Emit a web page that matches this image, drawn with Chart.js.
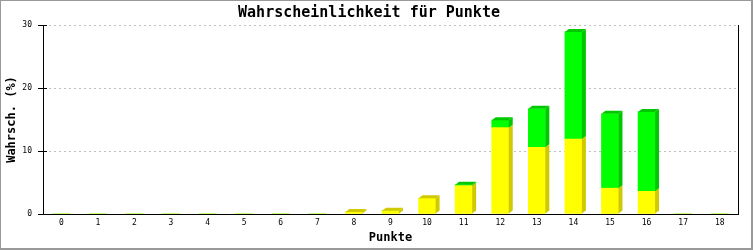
<!DOCTYPE html>
<html>
<head>
<meta charset="utf-8">
<script src="https://cdn.jsdelivr.net/npm/chart.js@4/dist/chart.umd.min.js"></script>
<style>
  html, body { margin: 0; padding: 0; background: #fff; }
  #wrap { width: 753px; height: 250px; }
</style>
</head>
<body>
<div id="wrap"><canvas id="chart"></canvas></div>
<script>
// Daten (Prozent)
const punkte = ['0','1','2','3','4','5','6','7','8','9','10','11','12','13','14','15','16','17','18'];
const wertGelb  = [0, 0, 0, 0, 0, 0, 0, 0, 0.3, 0.5, 2.5, 4.5, 13.7, 10.6, 11.9, 4.1, 3.6, 0, 0];
const wertGruen = [0, 0, 0, 0, 0, 0, 0, 0, 0, 0, 0, 0.15, 1.2, 6.1, 17.0, 11.8, 12.6, 0, 0];
const yTicks = [0, 10, 20, 30];

const FONT = "'DejaVu Sans Mono', 'Liberation Mono', monospace";
const frontColors = ['#ffff00', '#00ff00'];
const sideColors = ['#d0c800', '#00c800'];
const DX = 4, DY = 3;

// Rahmen, rechte Achse, Ticks nach innen
const framePlugin = {
    id: 'frame',
    beforeDraw(chart) {
        const ctx = chart.ctx;
        ctx.save();
        ctx.fillStyle = '#999999';
        ctx.fillRect(0, 0, chart.width, chart.height);
        ctx.fillStyle = '#ffffff';
        ctx.fillRect(1, 1, chart.width - 3, chart.height - 3);
        ctx.restore();
    },
    afterDraw(chart) {
        const a = chart.chartArea;
        const ctx = chart.ctx;
        const ys = chart.scales.y;
        ctx.save();
        ctx.strokeStyle = '#000';
        ctx.lineWidth = 1;
        ctx.beginPath();
        ctx.moveTo(Math.round(a.right) + 0.5, a.top);
        ctx.lineTo(Math.round(a.right) + 0.5, a.bottom + 1);
        yTicks.forEach(v => {
            const py = Math.round(ys.getPixelForValue(v)) + 0.5;
            ctx.moveTo(a.left, py);
            ctx.lineTo(a.left + 4, py);
        });
        ctx.stroke();
        ctx.restore();
    }
};

// 3D-Seiten und Deckel fuer die Balken
const bar3dPlugin = {
    id: 'bar3d',
    afterDatasetsDraw(chart) {
        const ctx = chart.ctx;
        const metas = chart.getSortedVisibleDatasetMetas();
        ctx.save();
        for (let i = 0; i < punkte.length; i++) {
            let topK = -1;
            metas.forEach((m, k) => {
                if (chart.data.datasets[m.index].data[i] > 0) topK = k;
            });
            metas.forEach((m, k) => {
                const v = chart.data.datasets[m.index].data[i];
                if (!(v > 0)) return;
                const b = m.data[i];
                const left = b.x - b.width / 2;
                const right = b.x + b.width / 2;
                ctx.fillStyle = sideColors[m.index];
                ctx.beginPath();
                ctx.moveTo(right, b.y);
                ctx.lineTo(right + DX, b.y - DY);
                ctx.lineTo(right + DX, b.base - DY);
                ctx.lineTo(right, b.base);
                ctx.closePath();
                ctx.fill();
                if (k === topK) {
                    ctx.beginPath();
                    ctx.moveTo(left, b.y);
                    ctx.lineTo(left + DX, b.y - DY);
                    ctx.lineTo(right + DX, b.y - DY);
                    ctx.lineTo(right, b.y);
                    ctx.closePath();
                    ctx.fill();
                }
            });
        }
        ctx.restore();
    }
};

new Chart(document.getElementById('chart'), {
    type: 'bar',
    data: {
        labels: punkte,
        datasets: [
            { data: wertGelb, backgroundColor: frontColors[0], borderWidth: 0, barThickness: 17 },
            { data: wertGruen, backgroundColor: frontColors[1], borderWidth: 0, barThickness: 17 }
        ]
    },
    options: {
        responsive: true,
        maintainAspectRatio: false,
        animation: false,
        layout: { padding: { left: 0, right: 15, top: 0, bottom: 0 } },
        plugins: {
            legend: { display: false },
            tooltip: { enabled: false },
            title: {
                display: true,
                text: 'Wahrscheinlichkeit für Punkte',
                color: '#000',
                font: { family: FONT, size: 15, weight: 'bold' },
                padding: { top: 4, bottom: 3 }
            }
        },
        scales: {
            x: {
                stacked: true,
                offset: true,
                afterFit: s => { s.height = 36; },
                grid: { display: false, drawTicks: false, drawOnChartArea: false, tickLength: 0 },
                border: { display: true, color: '#000', width: 1 },
                ticks: {
                    color: '#000',
                    font: { family: FONT, size: 8 },
                    padding: 4,
                    maxRotation: 0,
                    autoSkip: false
                },
                title: {
                    display: true,
                    text: 'Punkte',
                    color: '#000',
                    font: { family: FONT, size: 12, weight: 'bold' },
                    padding: { top: 0, bottom: 5 }
                }
            },
            y: {
                stacked: true,
                min: 0,
                max: 30,
                afterFit: s => { s.width = 43; },
                afterBuildTicks: s => { s.ticks = yTicks.map(v => ({ value: v })); },
                grid: {
                    color: c => (c.tick && c.tick.value === 0) ? 'rgba(0,0,0,0)' : '#c0c0c0',
                    tickColor: '#000',
                    tickLength: 5,
                    drawTicks: true
                },
                border: { display: true, color: '#000', width: 1, dash: [2, 3], dashOffset: 0 },
                ticks: {
                    color: '#000',
                    font: { family: FONT, size: 8 },
                    padding: 6
                },
                title: {
                    display: true,
                    text: 'Wahrsch. (%)',
                    color: '#000',
                    font: { family: FONT, size: 12, weight: 'bold' },
                    padding: { top: 5, bottom: 0 }
                }
            }
        }
    },
    plugins: [framePlugin, bar3dPlugin]
});
</script>
</body>
</html>
